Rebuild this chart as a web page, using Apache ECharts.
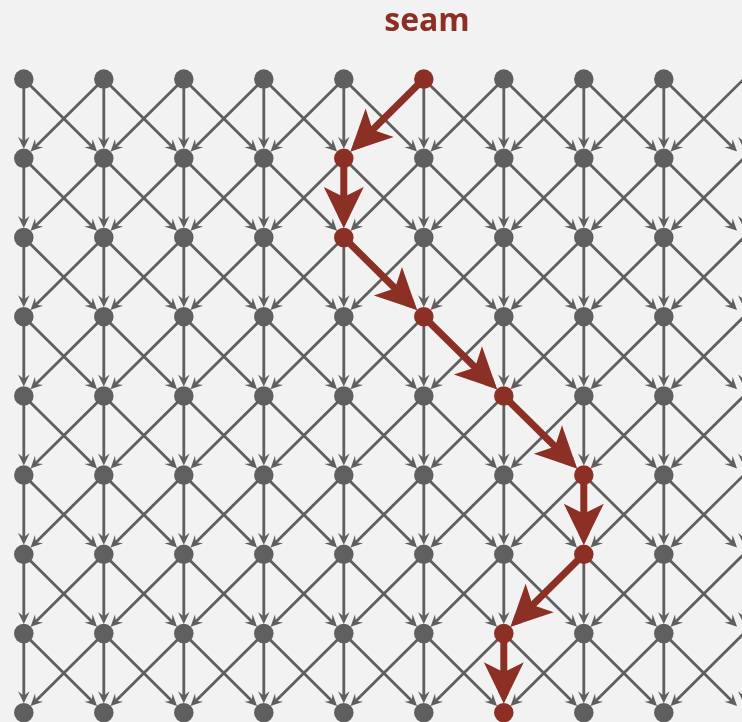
<!DOCTYPE html>
<html><head><meta charset="utf-8">
<script src="https://cdn.jsdelivr.net/npm/echarts@6/dist/echarts.min.js"></script>
<style>html,body{margin:0;padding:0;background:#f2f2f2}#c{width:742px;height:722px}</style>
</head><body><div id="c"></div>
<script>
// ---- data ----
const columns = [0, 1, 2, 3, 4, 5, 6, 7, 8, 9];
const rows = [0, 1, 2, 3, 4, 5, 6, 7, 8];
const seamColumns = [5, 4, 4, 5, 6, 7, 7, 6, 6]; // seam column for each row
const titleText = 'seam';

// ---- styling ----
const GRAY = '#5f5f5f', RED = '#8c2f24', BG = '#f2f2f2';

const seamSet = new Set(rows.map(r => seamColumns[r] + ',' + r));
const grayNodes = [], redNodes = [];
rows.forEach(r => columns.forEach(c => (seamSet.has(c + ',' + r) ? redNodes : grayNodes).push([c, r])));
const grayEdges = [];
rows.slice(0, -1).forEach(r => columns.forEach(c => [-1, 0, 1].forEach(d => {
  const c2 = c + d;
  if (columns.includes(c2)) grayEdges.push([c, r, c2, r + 1]);
})));
const redEdges = rows.slice(0, -1).map(r => [seamColumns[r], r, seamColumns[r + 1], r + 1]);

function arrowRenderer(o) {
  return function (params, api) {
    const p1 = api.coord([api.value(0), api.value(1)]);
    const p2 = api.coord([api.value(2), api.value(3)]);
    const dx = p2[0] - p1[0], dy = p2[1] - p1[1];
    const L = Math.hypot(dx, dy), ux = dx / L, uy = dy / L, nx = -uy, ny = ux;
    const tip = [p2[0] - ux * o.gap, p2[1] - uy * o.gap];
    const base = [tip[0] - ux * o.len, tip[1] - uy * o.len];
    const notch = [tip[0] - ux * o.notch, tip[1] - uy * o.notch];
    return {
      type: 'group', children: [
        { type: 'line', shape: { x1: p1[0], y1: p1[1], x2: notch[0] + ux, y2: notch[1] + uy },
          style: { stroke: o.color, lineWidth: o.width } },
        { type: 'polygon', shape: { points: [tip, [base[0] + nx * o.half, base[1] + ny * o.half], notch,
          [base[0] - nx * o.half, base[1] - ny * o.half]] }, style: { fill: o.color } }
      ]
    };
  };
}

const chart = echarts.init(document.getElementById('c'), null, { renderer: 'canvas' });
chart.setOption({
  backgroundColor: BG,
  animation: false,
  grid: { left: 0, right: 0, top: 0, bottom: 0, containLabel: false },
  xAxis: { type: 'value', min: -0.2975, max: 8.9775, show: false },
  yAxis: { type: 'value', inverse: true, min: -0.99874, max: 8.1174, show: false },
  graphic: [{
    type: 'text', x: 427, y: 22, silent: true,
    style: { text: titleText, textAlign: 'center', textVerticalAlign: 'middle',
      fontFamily: 'Open Sans', fontWeight: 'bold', fontSize: 32, fill: RED }
  }],
  series: [
    { type: 'custom', z: 1, silent: true, data: grayEdges, encode: { x: [0, 2], y: [1, 3] },
      renderItem: arrowRenderer({ color: GRAY, width: 2.8, gap: 9.5, len: 12, half: 5.8, notch: 7.5 }) },
    { type: 'scatter', z: 2, silent: true, data: grayNodes, symbolSize: 19.5,
      itemStyle: { color: GRAY, opacity: 1 } },
    { type: 'custom', z: 3, silent: true, data: redEdges, encode: { x: [0, 2], y: [1, 3] },
      renderItem: arrowRenderer({ color: RED, width: 7, gap: 9.5, len: 41, half: 20, notch: 31 }) },
    { type: 'scatter', z: 4, silent: true, data: redNodes, symbolSize: 19.5,
      itemStyle: { color: RED, opacity: 1 } }
  ]
});
</script></body></html>
